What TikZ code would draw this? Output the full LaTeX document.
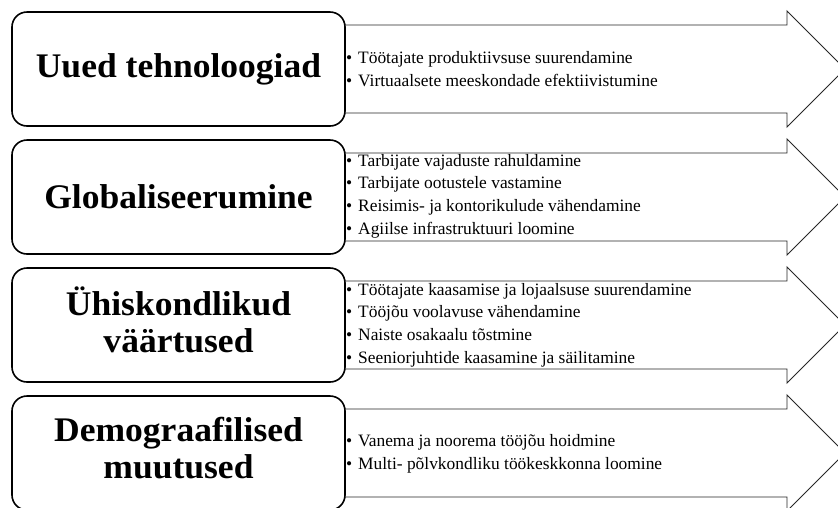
\documentclass[tikz,border=0pt]{standalone}
\usepackage{fontspec}
\setmainfont{Liberation Serif}
\usepackage{graphicx}
\newcommand\myitem[1]{\makebox[12pt][l]{•}#1}
\tikzset{
  titlebox/.style={draw=black, line width=1.6pt, rounded corners=15pt, fill=white,
    minimum width=333pt, minimum height=114pt, inner sep=0pt},
  titletext/.style={inner sep=0pt, font=\fontsize{34.5}{37}\selectfont\bfseries, align=center},
  arrowshape/.style={draw=black!85, line width=0.9pt, fill=white, line join=miter},
  bullets/.style={anchor=west, inner sep=0pt, font=\fontsize{17.4}{22.7}\selectfont, align=left},
}
\begin{document}
\begin{tikzpicture}[x=1pt,y=-1pt]
\useasboundingbox (0,0) rectangle (838,507);
\clip (0,0) rectangle (838,507);
% arrows
\foreach \c in {69,197,325,453}{
  \draw[arrowshape] (340,\c-44) -- (787,\c-44) -- (787,\c-58) -- (845,\c)
    -- (787,\c+58) -- (787,\c+44) -- (340,\c+44) -- cycle;
}
% boxes
\node[titlebox] (r1) at (178.5,69) {};
\node[titlebox] (r2) at (178.5,197) {};
\node[titlebox] (r3) at (178.5,325) {};
\node[titlebox] (r4) at (178.5,453) {};
% titles
\node[titletext] (t1) at (r1.center) {\scalebox{1.03}[1]{Uued tehnoloogiad}};
\node[titletext] (t2) at (r2.center) {\scalebox{1.03}[1]{Globaliseerumine}};
\node[titletext] (t3) at (r3.center) {\scalebox{1.03}[1]{\begin{tabular}{@{}c@{}}Ühiskondlikud\\väärtused\end{tabular}}};
\node[titletext] (t4) at (r4.center) {\scalebox{1.03}[1]{\begin{tabular}{@{}c@{}}Demograafilised\\muutused\end{tabular}}};
% bullet texts
\node[bullets] (b1) at (346,69) {\myitem{Töötajate produktiivsuse suurendamine}\\
  \myitem{Virtuaalsete meeskondade efektiivistumine}};
\node[bullets] (b2) at (346,196) {\myitem{Tarbijate vajaduste rahuldamine}\\
  \myitem{Tarbijate ootustele vastamine}\\
  \myitem{Reisimis- ja kontorikulude vähendamine}\\
  \myitem{Agiilse infrastruktuuri loomine}};
\node[bullets] (b3) at (346,325) {\myitem{Töötajate kaasamise ja lojaalsuse suurendamine}\\
  \myitem{Tööjõu voolavuse vähendamine}\\
  \myitem{Naiste osakaalu tõstmine}\\
  \myitem{Seeniorjuhtide kaasamine ja säilitamine}};
\node[bullets] (b4) at (346,454) {\myitem{Vanema ja noorema tööjõu hoidmine}\\
  \myitem{Multi- põlvkondliku töökeskkonna loomine}};
\end{tikzpicture}
\end{document}
